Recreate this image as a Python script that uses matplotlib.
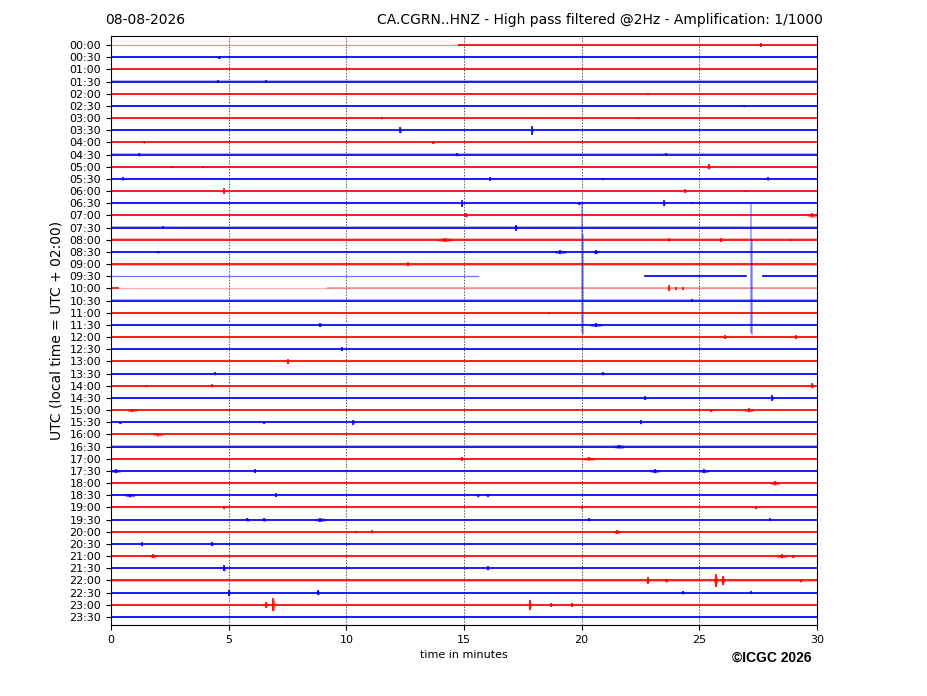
import matplotlib
matplotlib.use("Agg")
import matplotlib.pyplot as plt

# ---------------- data ----------------
date_label = "08-08-2026"
title_right = "CA.CGRN..HNZ - High pass filtered @2Hz - Amplification: 1/1000"
row_labels = [f"{h:02d}:{m:02d}" for h in range(24) for m in (0, 30)]
row_colors = ["#ff0000" if i % 2 == 0 else "#0000ff" for i in range(48)]

# baseline noise half-amplitude per row (in row units)
row_noise = [0.05, 0.09, 0.08, 0.09, 0.08, 0.07, 0.06, 0.08,
             0.08, 0.09, 0.08, 0.08, 0.08, 0.09, 0.09, 0.09,
             0.10, 0.09, 0.12, 0.06, 0.05, 0.09, 0.09, 0.09,
             0.08, 0.08, 0.08, 0.08, 0.08, 0.08, 0.09, 0.09,
             0.08, 0.10, 0.09, 0.09, 0.09, 0.09, 0.08, 0.09,
             0.08, 0.08, 0.08, 0.08, 0.09, 0.09, 0.08, 0.05]

# rows with partial / quieter segments: row -> [(start, end, noise, strength)]
segments_override = {
    0: [(0.0, 14.8, 0.03, 0.45), (14.8, 30.0, 0.05, 0.9)],
    19: [(0.0, 15.6, 0.02, 0.55), (22.7, 27.0, 0.10, 0.9), (27.7, 30.0, 0.09, 0.9)],
    20: [(0.0, 0.3, 0.07, 0.9), (0.3, 9.2, 0.03, 0.25), (9.2, 30.0, 0.05, 0.4)],
}

# events: (row, minute, half-amplitude, duration)
events = [
    (0, 14.8, 0.10, 0.05), (0, 27.6, 0.15, 0.1),
    (1, 4.6, 0.13, 0.1),
    (3, 4.55, 0.10, 0.05), (3, 6.6, 0.10, 0.05),
    (4, 22.8, 0.09, 0.05), (5, 26.9, 0.09, 0.05),
    (6, 11.5, 0.08, 0.05), (6, 22.4, 0.09, 0.05),
    (7, 12.3, 0.26, 0.1), (7, 17.9, 0.36, 0.08),
    (8, 13.7, 0.13, 0.1), (8, 1.4, 0.09, 0.05),
    (9, 1.2, 0.13, 0.08), (9, 14.7, 0.13, 0.08), (9, 23.6, 0.09, 0.05),
    (10, 2.6, 0.09, 0.05), (10, 3.9, 0.09, 0.05), (10, 25.4, 0.22, 0.15),
    (11, 0.5, 0.13, 0.08), (11, 16.1, 0.15, 0.05), (11, 20.9, 0.09, 0.05), (11, 27.9, 0.13, 0.1),
    (12, 4.8, 0.22, 0.08), (12, 24.4, 0.13, 0.08), (12, 27.0, 0.08, 0.05),
    (13, 14.9, 0.28, 0.1), (13, 19.9, 0.13, 0.08), (13, 23.5, 0.25, 0.08), (13, 24.7, 0.09, 0.05),
    (14, 15.1, 0.17, 0.1), (14, 29.8, 0.17, 0.4),
    (15, 17.2, 0.25, 0.12), (15, 2.2, 0.09, 0.05),
    (16, 14.2, 0.15, 0.6), (16, 23.7, 0.13, 0.08), (16, 25.9, 0.15, 0.08), (16, 28.9, 0.09, 0.05),
    (17, 19.1, 0.15, 0.5), (17, 20.6, 0.15, 0.2), (17, 2.0, 0.10, 0.08),
    (18, 12.6, 0.15, 0.1),
    (20, 23.7, 0.25, 0.12), (20, 24.0, 0.12, 0.05), (20, 24.3, 0.12, 0.05),
    (21, 24.7, 0.10, 0.05), (22, 18.6, 0.10, 0.05),
    (23, 8.9, 0.15, 0.08), (23, 20.6, 0.14, 0.5),
    (24, 26.1, 0.15, 0.08), (24, 29.1, 0.15, 0.08),
    (25, 9.8, 0.15, 0.08),
    (26, 7.5, 0.20, 0.12),
    (27, 4.4, 0.13, 0.08), (27, 20.9, 0.15, 0.08),
    (28, 1.5, 0.10, 0.1), (28, 4.3, 0.13, 0.08), (28, 29.8, 0.22, 0.15),
    (29, 22.7, 0.15, 0.08), (29, 28.1, 0.22, 0.1),
    (30, 0.9, 0.13, 0.4), (30, 25.5, 0.13, 0.08), (30, 27.1, 0.15, 0.4),
    (31, 0.4, 0.13, 0.1), (31, 6.5, 0.13, 0.08), (31, 10.3, 0.19, 0.08), (31, 22.5, 0.15, 0.08),
    (32, 2.0, 0.14, 0.4),
    (33, 21.6, 0.15, 0.4),
    (34, 14.9, 0.15, 0.08), (34, 20.3, 0.14, 0.5),
    (35, 0.2, 0.14, 0.4), (35, 6.1, 0.15, 0.08), (35, 23.1, 0.15, 0.4), (35, 25.2, 0.15, 0.4),
    (36, 28.2, 0.16, 0.4),
    (37, 0.8, 0.14, 0.4), (37, 7.0, 0.15, 0.08), (37, 15.6, 0.13, 0.08), (37, 16.0, 0.13, 0.08),
    (38, 4.8, 0.15, 0.08), (38, 20.0, 0.15, 0.08), (38, 27.4, 0.15, 0.08),
    (39, 5.8, 0.15, 0.15), (39, 6.5, 0.15, 0.15), (39, 8.9, 0.16, 0.45), (39, 20.3, 0.13, 0.08), (39, 28.0, 0.10, 0.05),
    (40, 10.4, 0.10, 0.05), (40, 11.1, 0.13, 0.05), (40, 21.5, 0.16, 0.3),
    (41, 1.3, 0.15, 0.08), (41, 4.3, 0.17, 0.1),
    (42, 1.8, 0.15, 0.25), (42, 28.5, 0.15, 0.45), (42, 29.0, 0.13, 0.08),
    (43, 4.8, 0.25, 0.15), (43, 16.0, 0.17, 0.12),
    (44, 22.8, 0.27, 0.15), (44, 23.6, 0.15, 0.15), (44, 25.7, 0.55, 0.2), (44, 26.0, 0.36, 0.2), (44, 29.3, 0.15, 0.08),
    (45, 5.0, 0.25, 0.12), (45, 8.8, 0.22, 0.12), (45, 24.3, 0.15, 0.08), (45, 27.2, 0.10, 0.05),
    (46, 6.6, 0.27, 0.12), (46, 6.9, 0.55, 0.2), (46, 17.8, 0.42, 0.15), (46, 18.7, 0.15, 0.08), (46, 19.6, 0.15, 0.08),
]

# large glitches: (row, minute, extent up, extent down)
glitches = [(19, 20.0, 6.0, 4.7), (19, 20.05, 3.5, 4.8), (19, 27.2, 5.9, 4.7), (19, 27.25, 3.0, 4.8)]

# ---------------- plot ----------------
fig = plt.figure(figsize=(9.27, 6.96), dpi=100)
ax = fig.add_axes([111/927, 1-625/696, 706/927, 589/696])

for i in range(48):
    col = row_colors[i]
    segs = segments_override.get(i, [(0.0, 30.0, row_noise[i], 0.9)])
    for (s, e, n, a) in segs:
        ax.fill_between([s, e], [i - n, i - n], [i + n, i + n], color=col,
                        alpha=a * 0.35, linewidth=0)
        ax.plot([s, e], [i, i], color=col, lw=1.3 if n > 0.04 else 0.9, alpha=a)

for (r, t, amp, dur) in events:
    col = row_colors[r]
    n = row_noise[r]
    xs = [t - dur / 2, t, t + dur / 2]
    ax.fill_between(xs, [r - n, r - amp, r - n], [r + n, r + amp, r + n],
                    color=col, alpha=0.55, linewidth=0)
    ax.vlines(t, r - amp, r + amp, color=col, lw=1.3, alpha=0.9)

for (r, t, up, dn) in glitches:
    ax.vlines(t, r - up, r + dn, color=row_colors[r], lw=1.2, alpha=0.4)

for x in (5, 10, 15, 20, 25):
    ax.axvline(x, color="#555555", lw=0.7, ls=(0, (1.5, 1.5)), zorder=0)

ax.set_xlim(0, 30)
ax.set_ylim(47.66, -0.74)
ax.set_xticks(range(0, 31, 5))
ax.set_yticks(range(48))
ax.set_yticklabels(row_labels)
ax.tick_params(axis="both", labelsize=8)
ax.set_xlabel("time in minutes", fontsize=8)
ax.set_ylabel("UTC (local time = UTC + 02:00)", fontsize=10)

fig.text(105/927, 1-20/696, date_label, fontsize=10, ha="left", va="center")
fig.text(823/927, 1-20/696, title_right, fontsize=10, ha="right", va="center")
fig.text(811/927, 1-658/696, "©ICGC 2026", fontsize=10, fontweight="bold",
         family=["Liberation Sans", "DejaVu Sans"], ha="right", va="center")

fig.savefig("out.png", dpi=100)
